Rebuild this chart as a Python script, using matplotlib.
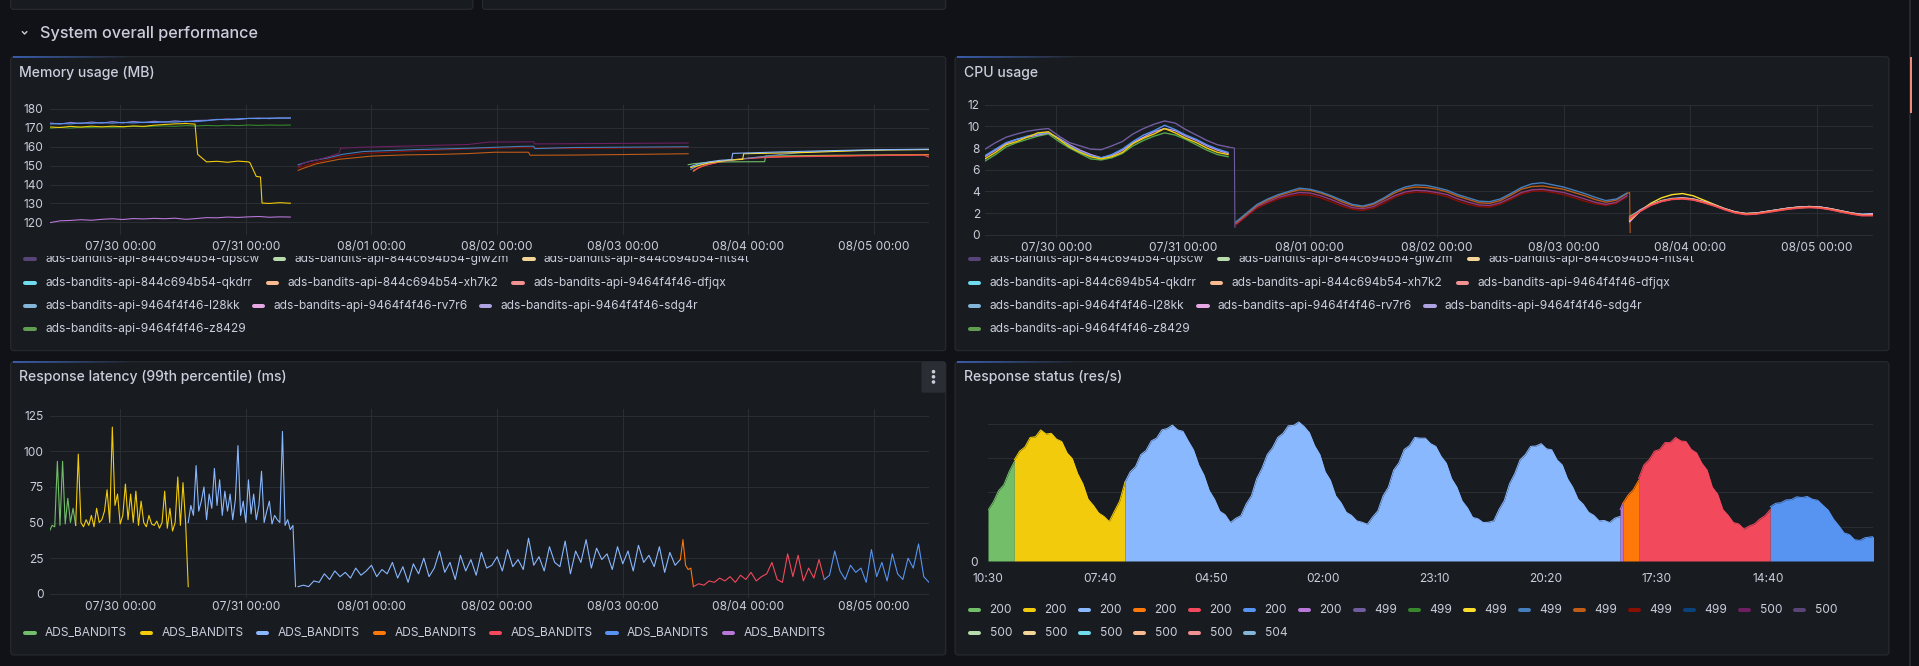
import numpy as np
import matplotlib
matplotlib.use("Agg")
import matplotlib.pyplot as plt
from matplotlib.patches import FancyBboxPatch, Rectangle
from matplotlib.collections import LineCollection

# ============================ DATA ============================
# time axis: hours since 07/29 10:30
DATE_TICK_HOURS = [13.5, 37.5, 61.5, 85.5, 109.5, 133.5, 157.5]
DATE_TICK_LABELS = ["07/30 00:00", "07/31 00:00", "08/01 00:00", "08/02 00:00",
                    "08/03 00:00", "08/04 00:00", "08/05 00:00"]
STATUS_TICK_HOURS = [0.0, 21.1667, 42.3333, 63.5, 84.6667, 105.8333, 127.0, 148.1667]
STATUS_TICK_LABELS = ["10:30", "07:40", "04:50", "02:00", "23:10", "20:20", "17:30", "14:40"]

POD_LABELS = ["ads-bandits-api-844c694b54-dpscw", "ads-bandits-api-844c694b54-glw2m",
              "ads-bandits-api-844c694b54-nts4t", "ads-bandits-api-844c694b54-qkdrr",
              "ads-bandits-api-844c694b54-xh7k2", "ads-bandits-api-9464f4f46-dfjqx",
              "ads-bandits-api-9464f4f46-l28kk", "ads-bandits-api-9464f4f46-rv7r6",
              "ads-bandits-api-9464f4f46-sdg4r", "ads-bandits-api-9464f4f46-z8429"]
POD_COLORS = ["#584477", "#B7DBAB", "#F4D598", "#70DBED", "#F9BA8F",
              "#F29191", "#82B5D8", "#E5A8E2", "#AEA2E0", "#629E51"]
LAT_LABELS = ["ADS_BANDITS"] * 7
LAT_COLORS = ["#73BF69", "#F2CC0C", "#8AB8FF", "#FF780A", "#F2495C", "#5794F2", "#B877D9"]
STATUS_LABELS_ROW1 = ["200"] * 7 + ["499"] * 7 + ["500"] * 2
STATUS_COLORS_ROW1 = ["#73BF69", "#F2CC0C", "#8AB8FF", "#FF780A", "#F2495C", "#5794F2", "#B877D9",
                      "#705DA0", "#37872D", "#FADE2A", "#447EBC", "#C15C17", "#890F02", "#0A437C",
                      "#6D1F62", "#584477"]
STATUS_LABELS_ROW2 = ["500"] * 5 + ["504"]
STATUS_COLORS_ROW2 = ["#B7DBAB", "#F4D598", "#70DBED", "#F9BA8F", "#F29191", "#82B5D8"]

# ---- Memory usage (MB) ----
MEM1_START, MEM1_STEP = 0.0, 2.0
mem1_blue = [172.0, 172.3, 172.1, 172.6, 172.4, 172.8, 172.5, 172.9, 172.6, 173.0, 172.8, 173.2,
             173.0, 173.5, 173.3, 173.8, 174.5, 174.3, 174.8, 175.0, 174.9, 175.2, 175.1, 175.3]
mem1_violet = [172.6, 172.0, 172.9, 172.3, 173.1, 172.5, 173.3, 172.6, 173.4, 172.8, 173.5, 173.0,
               173.7, 173.2, 173.9, 174.0, 174.3, 174.7, 174.4, 175.0, 175.2, 174.9, 175.3, 175.1]
mem1_green = [169.8, 170.3, 169.9, 170.4, 170.2, 170.6, 170.3, 170.5, 170.8, 170.6, 170.9, 171.0,
              170.8, 171.2, 171.0, 171.3, 171.1, 171.4, 171.2, 171.5, 171.3, 171.5, 171.4, 171.5]
mem1_purple = [119.8, 120.8, 121.0, 121.4, 121.1, 121.6, 121.9, 121.5, 122.0, 121.8, 122.1, 121.9,
               122.2, 121.6, 122.0, 122.5, 122.4, 122.8, 122.6, 122.9, 123.1, 122.7, 122.9, 122.8]
mem1_yellow_t = [0, 2, 4, 6, 8, 10, 12, 14, 16, 18, 20, 22, 24, 26, 27.8, 28.3, 28.8, 30, 32, 34,
                 36, 38, 38.3, 39.5, 40.3, 40.6, 42, 44, 46]
mem1_yellow = [170.5, 170.2, 170.8, 170.4, 170.9, 170.5, 170.9, 170.6, 171.0, 170.8, 171.4, 171.8,
               172.1, 172.3, 172.0, 156.0, 154.8, 152.0, 152.3, 151.8, 152.4, 152.0, 151.5, 144.3,
               144.0, 130.2, 130.0, 130.4, 130.1]
mem2_plum_t = [47.5, 48.5, 51, 53, 55.3, 55.6, 60, 70, 80, 84, 92.5, 92.7, 100, 110, 122]
mem2_plum = [149.5, 151.3, 153.0, 154.5, 156.5, 159.2, 159.8, 160.5, 161.2, 162.5, 162.6, 161.5,
             161.6, 161.8, 162.0]
mem2_steel_t = [47.5, 50, 53, 56, 60, 65, 70, 80, 90, 92.5, 92.7, 100, 122]
mem2_steel = [150.5, 152.5, 154.0, 156.0, 157.5, 158.0, 158.5, 159.2, 160.2, 160.3, 159.0, 159.6, 160.0]
mem2_maroon_t = [47.5, 50, 55, 60, 70, 80, 90, 100, 110, 122]
mem2_maroon = [148.8, 151.0, 154.5, 156.5, 157.8, 158.8, 159.5, 159.0, 159.3, 159.5]
mem2_rust_t = [47.5, 48.5, 51, 55.4, 61.7, 68, 75, 80, 85, 91.5, 91.8, 100, 110, 122]
mem2_rust = [147.5, 148.6, 151.0, 153.4, 155.1, 155.7, 156.0, 156.4, 157.1, 157.1, 155.5, 155.6,
             155.9, 156.3]
mem3_sky_t = [122.5, 124, 126, 128, 130.3, 130.5, 140, 150, 160, 168]
mem3_sky = [149.5, 151.0, 152.0, 152.8, 153.2, 156.5, 157.3, 158.0, 158.5, 158.7]
mem3_slate_t = [122.5, 124, 126, 128, 132, 140, 145, 150, 160, 168]
mem3_slate = [148.0, 150.2, 151.5, 152.3, 153.5, 156.0, 157.3, 157.8, 158.4, 158.6]
mem3_gold_t = [122.5, 126, 130, 132.4, 132.6, 145, 155, 160, 168]
mem3_gold = [149.0, 151.5, 153.0, 153.3, 156.3, 157.0, 158.0, 158.3, 158.5]
mem3_green_t = [122.0, 123, 126, 130, 136.6, 136.8, 150, 168]
mem3_green = [150.5, 151.0, 151.8, 152.0, 152.1, 155.1, 155.5, 155.8]
mem3_orange_t = [123, 124, 126, 128, 130, 135, 140, 150, 160, 168]
mem3_orange = [147.0, 149.0, 150.8, 152.0, 153.0, 154.3, 154.8, 155.2, 155.6, 155.8]
mem3_red_t = [123, 125, 128, 132, 136, 140, 150, 160, 167, 168]
mem3_red = [147.5, 150.0, 152.0, 153.5, 154.2, 154.6, 155.0, 155.4, 155.6, 154.5]

# ---- CPU usage ----
CPU1_START, CPU1_STEP = 0.0, 2.0
cpu1_plum = [7.9, 8.5, 9.0, 9.3, 9.55, 9.7, 9.8, 9.1, 8.5, 8.2, 7.9, 7.85, 8.2, 8.6, 9.3, 9.8,
             10.2, 10.5, 10.3, 9.7, 9.2, 8.7, 8.3, 8.1]
cpu1_blue = [7.3, 7.9, 8.5, 8.8, 9.1, 9.3, 9.45, 8.85, 8.2, 7.7, 7.3, 7.1, 7.4, 7.9, 8.6, 9.2,
             9.6, 10.1, 9.7, 9.2, 8.8, 8.3, 7.9, 7.6]
cpu1_lilac = [7.2, 7.8, 8.4, 8.8, 9.0, 9.2, 9.4, 8.9, 8.3, 7.8, 7.4, 7.1, 7.3, 7.8, 8.5, 9.0,
              9.5, 9.8, 9.6, 9.1, 8.7, 8.2, 7.8, 7.5]
cpu1_yellow = [7.0, 7.6, 8.3, 8.6, 9.0, 9.4, 9.5, 8.8, 8.1, 7.6, 7.2, 7.0, 7.2, 7.6, 8.4, 8.9,
               9.3, 9.8, 9.4, 8.9, 8.5, 8.0, 7.6, 7.4]
cpu1_green = [6.8, 7.4, 8.1, 8.5, 8.8, 9.1, 9.3, 8.6, 8.0, 7.5, 7.0, 6.9, 7.1, 7.5, 8.2, 8.7,
              9.1, 9.4, 9.2, 8.8, 8.3, 7.8, 7.4, 7.2]
cpu_drop1_t = [46, 47.2, 47.3]
cpu_drop1 = [8.1, 8.0, 0.7]
CPU2_START, CPU2_STEP = 47.5, 2.0
cpu2_steel = [1.2, 2.0, 2.8, 3.3, 3.7, 4.0, 4.3, 4.2, 3.95, 3.6, 3.2, 2.8, 2.65, 2.9, 3.4, 4.0,
              4.4, 4.6, 4.55, 4.35, 4.1, 3.7, 3.4, 3.1, 3.05, 3.3, 3.8, 4.35, 4.7, 4.8, 4.6, 4.4,
              4.1, 3.8, 3.45, 3.15, 3.3, 3.85]
cpu2_rust = [1.1, 1.9, 2.7, 3.2, 3.6, 3.9, 4.15, 4.1, 3.85, 3.5, 3.05, 2.7, 2.55, 2.8, 3.3, 3.85,
             4.25, 4.4, 4.35, 4.2, 3.95, 3.55, 3.25, 2.95, 2.9, 3.15, 3.65, 4.2, 4.45, 4.5, 4.35,
             4.2, 3.9, 3.6, 3.25, 3.0, 3.2, 3.8]
cpu2_plum = [1.0, 1.8, 2.6, 3.05, 3.45, 3.7, 3.9, 3.85, 3.6, 3.25, 2.85, 2.5, 2.4, 2.6, 3.1, 3.6,
             3.95, 4.1, 4.05, 3.9, 3.7, 3.3, 3.0, 2.75, 2.7, 2.95, 3.4, 3.9, 4.15, 4.2, 4.05, 3.9,
             3.6, 3.3, 3.0, 2.8, 3.0, 3.6]
cpu2_maroon = [0.9, 1.7, 2.45, 2.9, 3.3, 3.55, 3.7, 3.65, 3.4, 3.05, 2.65, 2.35, 2.25, 2.45, 2.9,
               3.45, 3.8, 3.95, 3.9, 3.75, 3.5, 3.1, 2.8, 2.6, 2.55, 2.8, 3.25, 3.75, 4.0, 4.05,
               3.9, 3.7, 3.4, 3.1, 2.85, 2.7, 2.9, 3.5]
cpu_drop2_t = [121.5, 122.0, 122.1]
cpu_drop2 = [3.8, 3.9, 0.2]
CPU3_START, CPU3_STEP = 122.0, 2.0
cpu3_sky = [1.5, 2.3, 2.8, 3.15, 3.35, 3.4, 3.3, 3.05, 2.75, 2.4, 2.1, 1.95, 2.0, 2.15, 2.3, 2.45,
            2.55, 2.6, 2.55, 2.4, 2.2, 2.0, 1.9, 1.95]
cpu3_gold = [1.3, 2.2, 2.9, 3.4, 3.7, 3.8, 3.6, 3.2, 2.8, 2.4, 2.1, 1.95, 2.0, 2.15, 2.3, 2.45,
             2.55, 2.6, 2.55, 2.4, 2.2, 2.0, 1.85, 1.8]
cpu3_orange = [1.4, 2.2, 2.75, 3.1, 3.3, 3.35, 3.25, 3.0, 2.7, 2.35, 2.05, 1.9, 1.95, 2.1, 2.25,
               2.4, 2.5, 2.55, 2.5, 2.35, 2.15, 1.95, 1.8, 1.8]
cpu3_red = [1.6, 2.15, 2.7, 3.05, 3.25, 3.3, 3.2, 2.95, 2.65, 2.3, 2.0, 1.85, 1.9, 2.05, 2.2, 2.35,
            2.45, 2.5, 2.45, 2.3, 2.1, 1.9, 1.75, 1.75]
cpu3_green = [1.7, 2.25, 2.75, 3.1, 3.3, 3.35, 3.25, 3.0, 2.7, 2.35, 2.05, 1.9, 1.95, 2.1, 2.25,
              2.4, 2.5, 2.55, 2.5, 2.35, 2.1, 1.95, 1.8, 1.85]
cpu3_pink = [1.2, 2.2, 2.8, 3.1, 3.3, 3.4, 3.3, 3.05, 2.75, 2.4, 2.1, 1.95, 2.0, 2.15, 2.3, 2.45,
             2.55, 2.6, 2.55, 2.4, 2.2, 2.0, 1.85, 1.9]

# ---- Response latency p99 (ms) ----
LAT_GREEN_START, LAT_GREEN_STEP = 0.0, 0.5
lat_green = [44, 48, 47, 93, 48, 93, 49, 67, 50, 60, 48]
LAT_YELLOW_START, LAT_YELLOW_STEP = 5.0, 0.5
lat_yellow = [48, 98, 50, 47, 52, 48, 55, 47, 60, 50, 52, 58, 73, 50, 117, 62, 70, 49, 55, 77, 52,
              70, 50, 72, 48, 65, 50, 47, 55, 49, 48, 51, 46, 50, 72, 46, 60, 44, 50, 82, 48, 78,
              50, 5]
LAT_SKY1_START, LAT_SKY1_STEP = 26.5, 0.5
lat_sky1 = [50, 62, 55, 90, 58, 65, 75, 52, 70, 60, 88, 62, 80, 55, 72, 58, 70, 52, 66, 104, 55,
            65, 50, 80, 56, 70, 52, 62, 86, 50, 58, 65, 49, 55, 52, 50, 114, 48, 52, 45, 48, 5]
LAT_SKY2_START, LAT_SKY2_STEP = 47.5, 1.0
lat_sky2 = [5, 6, 5, 9, 8, 14, 10, 16, 12, 15, 11, 18, 13, 16, 20, 12, 17, 14, 22, 11,
            19, 8, 21, 14, 25, 12, 18, 30, 15, 22, 10, 27, 16, 24, 13, 29, 18, 20, 26, 16,
            31, 19, 24, 17, 39, 20, 26, 16, 33, 22, 19, 37, 14, 30, 22, 38, 18, 32, 24, 28,
            17, 33, 21, 30, 16, 34, 22, 27, 19, 33, 15, 29, 20, 24]
LAT_ORANGE_START, LAT_ORANGE_STEP = 120.5, 0.5
lat_orange = [24, 38, 20, 17, 18, 5]
LAT_RED_START, LAT_RED_STEP = 123.0, 1.0
lat_red = [5, 7, 6, 9, 8, 11, 9, 12, 8, 13, 10, 15, 9, 12, 14, 22, 10, 8, 28, 12, 27, 9, 18, 11,
           24, 10]
LAT_BLUE_START, LAT_BLUE_STEP = 148.0, 1.0
lat_blue = [10, 13, 30, 16, 10, 20, 15, 18, 8, 31, 12, 22, 9, 28, 14, 10, 25, 18, 35, 12, 8]

# ---- Response status (res/s), in grid units ----
ST_GREEN_START, ST_GREEN_STEP = 0.0, 1.0
st_green = [1.48, 1.72, 2.05, 2.22, 2.6, 2.9]
ST_YELLOW_START, ST_YELLOW_STEP = 5.0, 1.0
st_yellow = [2.95, 3.2, 3.32, 3.6, 3.62, 3.82, 3.7, 3.72, 3.55, 3.48, 3.15, 2.98, 2.55, 2.25, 1.8,
             1.62, 1.4, 1.3, 1.15, 1.45, 1.75, 2.3]
ST_SKY_START, ST_SKY_STEP = 26.0, 1.0
st_sky = [2.3, 2.6, 2.75, 3.1, 3.22, 3.5, 3.58, 3.82, 3.86, 3.96,
          3.82, 3.78, 3.5, 3.24, 2.8, 2.5, 2.05, 1.8, 1.45, 1.35,
          1.12, 1.24, 1.32, 1.66, 1.9, 2.4, 2.7, 3.1, 3.3, 3.6,
          3.72, 3.94, 3.95, 4.05, 3.92, 3.74, 3.36, 3.1, 2.6, 2.35,
          1.9, 1.7, 1.42, 1.33, 1.17, 1.13, 1.07, 1.28, 1.46, 1.9,
          2.15, 2.65, 2.86, 3.25, 3.36, 3.6, 3.58, 3.58, 3.42, 3.34,
          3.05, 2.85, 2.4, 2.15, 1.75, 1.55, 1.27, 1.23, 1.12, 1.13,
          1.17, 1.5, 1.76, 2.25, 2.55, 2.95, 3.1, 3.34, 3.35, 3.42,
          3.27, 3.24, 2.95, 2.8, 2.4, 2.15, 1.8, 1.65, 1.42, 1.33,
          1.17, 1.18, 1.12, 1.25, 1.3]
ST_PURPLE_START, ST_PURPLE_STEP = 120.0, 0.5
st_purple = [1.5, 1.68]
ST_ORANGE_START, ST_ORANGE_STEP = 120.5, 1.0
st_orange = [1.68, 1.92, 2.08, 2.35]
ST_RED_START, ST_RED_STEP = 123.5, 1.0
st_red = [2.4, 2.8, 2.95, 3.2, 3.25, 3.45, 3.45, 3.6, 3.5, 3.48, 3.25, 3.15, 2.85, 2.65, 2.15,
          1.95, 1.5, 1.33, 1.12, 1.08, 0.93, 1.02, 1.08, 1.22, 1.32, 1.5]
ST_BLUE_START, ST_BLUE_STEP = 148.5, 1.0
st_blue = [1.58, 1.68, 1.7, 1.78, 1.79, 1.87, 1.85, 1.88, 1.8, 1.77, 1.62, 1.48, 1.22, 1.03, 0.82,
           0.77, 0.62, 0.6, 0.68, 0.7, 0.72]

# ============================ STYLE ============================
W, H = 1919, 666
plt.rcParams["font.family"] = ["Inter", "DejaVu Sans"]
PAGE_BG = "#111217"
PANEL_BG = "#181b1f"
PANEL_BORDER = "#2b2d33"
GRID = "#2a2d32"
TEXT = "#ccccdc"


def px(v):
    return v * 0.72


fig = plt.figure(figsize=(W / 100, H / 100), dpi=100, facecolor=PAGE_BG)
bg = fig.add_axes([0, 0, 1, 1])
bg.set_xlim(0, W)
bg.set_ylim(H, 0)
bg.axis("off")
bg.set_facecolor(PAGE_BG)


def panel(x0, y0, x1, y1, loading=True):
    bg.add_patch(FancyBboxPatch((x0, y0), x1 - x0, y1 - y0,
                                boxstyle="round,pad=0,rounding_size=3",
                                fc=PANEL_BG, ec=PANEL_BORDER, lw=px(1), zorder=1))
    if loading:
        xs = np.linspace(x0 + 2, x0 + 125, 60)
        segs = [[(xs[i], y0 + 0.6), (xs[i + 1], y0 + 0.6)] for i in range(len(xs) - 1)]
        alphas = np.linspace(0.95, 0.0, len(segs))
        cols = [(0.26, 0.45, 0.86, a) for a in alphas]
        bg.add_collection(LineCollection(segs, colors=cols, linewidths=px(1.5), zorder=2))


# top (cut off) panels
panel(10.7, -10, 473, 9.3, loading=False)
panel(482.4, -10, 945.8, 9.3, loading=False)
# main panels
panel(10.7, 56.7, 945.8, 350.7)
panel(955, 56.7, 1889, 350.7)
panel(10.7, 361.7, 945.8, 655)
panel(955, 361.7, 1889, 655)

# row header
bg.plot([22.3, 24.6, 26.9], [31.6, 34.0, 31.6], color=TEXT, lw=px(1.4), solid_capstyle="round",
        solid_joinstyle="round", zorder=3)
bg.text(40.3, 33.2, "System overall performance", color=TEXT, fontsize=px(16.2), va="center",
        ha="left", fontweight="medium", zorder=3)

# titles
for x, y, s in [(19.3, 72.7, "Memory usage (MB)"), (963.8, 72.7, "CPU usage"),
                (19.3, 377.4, "Response latency (99th percentile) (ms)"),
                (963.8, 377.4, "Response status (res/s)")]:
    bg.text(x, y, s, color=TEXT, fontsize=px(14), va="center", ha="left", fontweight="medium",
            zorder=3)

# latency panel menu button
bg.add_patch(FancyBboxPatch((921.4, 361.7), 24.4, 31, boxstyle="round,pad=0,rounding_size=2",
                            fc="#2a2d33", ec="none", zorder=2))
for yy in (371.7, 376.8, 382.0):
    bg.add_patch(plt.Circle((933.5, yy), 1.1, color=TEXT, zorder=3))

# scrollbar
bg.plot([1910.3, 1910.3], [0, H], color="#2c2f36", lw=px(1.6), zorder=2)
bg.add_patch(Rectangle((1909.6, 56.7), 2.4, 56.6, fc="#ee8a78", ec="none", zorder=3))


# ============================ LEGENDS ============================
def legend_item(x_text, y, label, color, clip=None):
    sx = x_text - 21.7
    ln, = bg.plot([sx + 2.0, sx + 11.3], [y, y], color=color, lw=px(4), solid_capstyle="round",
                  zorder=3)
    tx = bg.text(x_text, y, label, color=TEXT, fontsize=px(12), va="center", ha="left", zorder=3)
    if clip is not None:
        ln.set_clip_path(clip)
        tx.set_clip_path(clip)
        tx.set_clip_on(True)


POD_X = [[45, 294.4, 544], [45, 287.3, 533], [45, 273.6, 500.6], [45]]
POD_Y = [259.3, 282.7, 306.0, 329.3]
for off in (0.0, 944.3):
    clip = Rectangle((0, 256.4), W, 100, transform=bg.transData)
    k = 0
    for r, xs in enumerate(POD_X):
        for xt in xs:
            legend_item(xt + off, POD_Y[r], POD_LABELS[k], POD_COLORS[k],
                        clip=clip if r == 0 else None)
            k += 1

for i, (lab, col) in enumerate(zip(LAT_LABELS, LAT_COLORS)):
    legend_item(45 + 116.4 * i, 633.2, lab, col)

for i, (lab, col) in enumerate(zip(STATUS_LABELS_ROW1, STATUS_COLORS_ROW1)):
    legend_item(989.6 + 55.0 * i, 610.0, lab, col)
for i, (lab, col) in enumerate(zip(STATUS_LABELS_ROW2, STATUS_COLORS_ROW2)):
    legend_item(989.6 + 55.0 * i, 633.3, lab, col)


# ============================ CHART AXES ============================
def data_ax(x0, y0, x1, y1):
    ax = fig.add_axes([x0 / W, 1 - y1 / H, (x1 - x0) / W, (y1 - y0) / H])
    ax.set_facecolor("none")
    for s in ax.spines.values():
        s.set_visible(False)
    ax.tick_params(length=0, labelsize=px(12), labelcolor=TEXT)
    ax.grid(True, color=GRID, lw=px(1))
    ax.set_axisbelow(True)
    return ax


def steps(start, step, vals):
    return start + step * np.arange(len(vals))


LW = px(1.1)

# ---- Memory ----
axm = data_ax(49.5, 105, 929, 235)
axm.set_xlim(0, 168)
axm.set_ylim(113.3, 182.1)
axm.set_yticks([120, 130, 140, 150, 160, 170, 180])
axm.set_xticks(DATE_TICK_HOURS)
axm.set_xticklabels(DATE_TICK_LABELS)
axm.tick_params(axis="y", pad=px(6))
axm.tick_params(axis="x", pad=px(6))
t1 = steps(MEM1_START, MEM1_STEP, mem1_green)
axm.plot(t1, mem1_green, color="#37872D", lw=LW)
axm.plot(t1, mem1_violet, color="#8F80D8", lw=LW)
axm.plot(t1, mem1_blue, color="#5794F2", lw=LW)
axm.plot(mem1_yellow_t, mem1_yellow, color="#F2CC0C", lw=LW)
axm.plot(t1, mem1_purple, color="#B877D9", lw=LW)
axm.plot(mem2_rust_t, mem2_rust, color="#C15C17", lw=LW)
axm.plot(mem2_maroon_t, mem2_maroon, color="#890F02", lw=LW)
axm.plot(mem2_steel_t, mem2_steel, color="#447EBC", lw=LW)
axm.plot(mem2_plum_t, mem2_plum, color="#6D1F62", lw=LW)
axm.plot(mem3_green_t, mem3_green, color="#73BF69", lw=LW)
axm.plot(mem3_orange_t, mem3_orange, color="#FF780A", lw=LW)
axm.plot(mem3_red_t, mem3_red, color="#F2495C", lw=LW)
axm.plot(mem3_slate_t, mem3_slate, color="#6E8AB8", lw=LW)
axm.plot(mem3_gold_t, mem3_gold, color="#FADE2A", lw=LW)
axm.plot(mem3_sky_t, mem3_sky, color="#8AB8FF", lw=LW)

# ---- CPU ----
axc = data_ax(985, 104.7, 1872.7, 238)
axc.set_xlim(0, 168)
axc.set_ylim(-0.3, 12)
axc.set_yticks([0, 2, 4, 6, 8, 10, 12])
axc.set_xticks(DATE_TICK_HOURS)
axc.set_xticklabels(DATE_TICK_LABELS)
axc.tick_params(axis="y", pad=px(5))
axc.tick_params(axis="x", pad=px(4))
tc1 = steps(CPU1_START, CPU1_STEP, cpu1_plum)
CLW = px(1.4)
axc.plot(cpu_drop1_t, cpu_drop1, color="#705DA0", lw=LW)
axc.plot(tc1, cpu1_plum, color="#705DA0", lw=CLW)
axc.plot(tc1, cpu1_green, color="#56A64B", lw=CLW)
axc.plot(tc1, cpu1_lilac, color="#CA95E5", lw=CLW)
axc.plot(tc1, cpu1_blue, color="#5794F2", lw=CLW)
axc.plot(tc1, cpu1_yellow, color="#F2CC0C", lw=CLW)
tc2 = steps(CPU2_START, CPU2_STEP, cpu2_steel)
axc.plot(tc2, cpu2_maroon, color="#890F02", lw=CLW)
axc.plot(tc2, cpu2_plum, color="#8F3B7E", lw=CLW)
axc.plot(tc2, cpu2_rust, color="#C15C17", lw=CLW)
axc.plot(tc2, cpu2_steel, color="#447EBC", lw=CLW)
axc.plot(cpu_drop2_t, cpu_drop2, color="#C15C17", lw=LW)
tc3 = steps(CPU3_START, CPU3_STEP, cpu3_sky)
axc.plot(tc3, cpu3_green, color="#73BF69", lw=CLW)
axc.plot(tc3, cpu3_gold, color="#FADE2A", lw=CLW)
axc.plot(tc3, cpu3_sky, color="#8AB8FF", lw=CLW)
axc.plot(tc3, cpu3_pink, color="#E5A8E2", lw=CLW)
axc.plot(tc3, cpu3_orange, color="#FF780A", lw=CLW)
axc.plot(tc3, cpu3_red, color="#F2495C", lw=CLW)

# ---- Latency ----
axl = data_ax(49.5, 409.3, 929, 598.3)
axl.set_xlim(0, 168)
axl.set_ylim(-3.2, 129.5)
axl.set_yticks([0, 25, 50, 75, 100, 125])
axl.set_xticks(DATE_TICK_HOURS)
axl.set_xticklabels(DATE_TICK_LABELS)
axl.tick_params(axis="y", pad=px(6))
axl.tick_params(axis="x", pad=px(3))
for start, step, vals, col in [
    (LAT_GREEN_START, LAT_GREEN_STEP, lat_green, LAT_COLORS[0]),
    (LAT_YELLOW_START, LAT_YELLOW_STEP, lat_yellow, LAT_COLORS[1]),
    (LAT_SKY1_START, LAT_SKY1_STEP, lat_sky1, LAT_COLORS[2]),
    (LAT_SKY2_START, LAT_SKY2_STEP, lat_sky2, LAT_COLORS[2]),
    (LAT_ORANGE_START, LAT_ORANGE_STEP, lat_orange, LAT_COLORS[3]),
    (LAT_RED_START, LAT_RED_STEP, lat_red, LAT_COLORS[4]),
    (LAT_BLUE_START, LAT_BLUE_STEP, lat_blue, LAT_COLORS[5]),
]:
    axl.plot(steps(start, step, vals), vals, color=col, lw=LW)

# ---- Status ----
axs = data_ax(988, 410, 1873, 561)
axs.set_xlim(0, 168)
axs.set_ylim(0, 4.4)
axs.set_yticks([0, 1, 2, 3, 4])
axs.set_yticklabels(["0", "", "", "", ""])
axs.set_xticks(STATUS_TICK_HOURS)
axs.set_xticklabels(STATUS_TICK_LABELS)
axs.grid(False, axis="x")
axs.tick_params(axis="y", pad=px(10))
axs.tick_params(axis="x", pad=px(12.5))
for start, step, vals, col in [
    (ST_GREEN_START, ST_GREEN_STEP, st_green, "#73BF69"),
    (ST_YELLOW_START, ST_YELLOW_STEP, st_yellow, "#F2CC0C"),
    (ST_SKY_START, ST_SKY_STEP, st_sky, "#8AB8FF"),
    (ST_PURPLE_START, ST_PURPLE_STEP, st_purple, "#B877D9"),
    (ST_ORANGE_START, ST_ORANGE_STEP, st_orange, "#FF780A"),
    (ST_RED_START, ST_RED_STEP, st_red, "#F2495C"),
    (ST_BLUE_START, ST_BLUE_STEP, st_blue, "#5794F2"),
]:
    tt = steps(start, step, vals)
    axs.fill_between(tt, 0, vals, color=col, linewidth=0, zorder=2)
    axs.plot(tt, vals, color=col, lw=px(1), zorder=3)

fig.savefig("out.png", dpi=100, facecolor=PAGE_BG)
